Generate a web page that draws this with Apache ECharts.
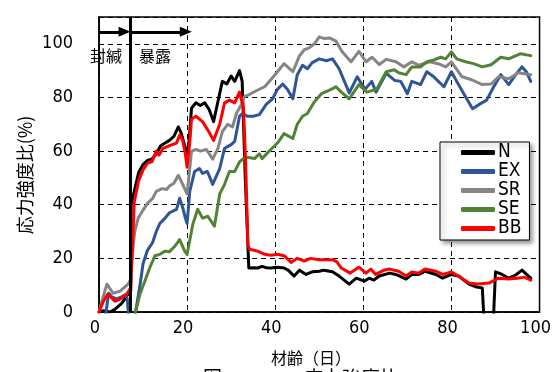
<!DOCTYPE html>
<html>
<head>
<meta charset="utf-8">
<script src="https://cdn.jsdelivr.net/npm/echarts@6/dist/echarts.min.js"></script>
<style>
  html, body { margin: 0; padding: 0; background: #fff; }
  #chart { width: 554px; height: 372px; }
</style>
</head>
<body>
<div id="chart"></div>
<script>
// Age in days and stress-strength ratio (%) for each specimen series
const seriesNames = ['N', 'EX', 'SR', 'SE', 'BB'];
const xTicks = [0, 20, 40, 60, 80, 100];
const yTicks = [0, 20, 40, 60, 80, 100];

const nDays = [0, 1, 2.5, 3.6, 5.2, 6.6, 7.2, 7.3, 8, 9, 10, 11, 12, 13, 14, 15, 16, 17, 18, 18.6, 19.3, 20, 20.5, 21, 22, 23, 24, 25, 26, 27, 28, 29, 30, 30.8, 31.9, 32.5, 33.2, 34, 35, 36, 37, 38, 39, 40.5, 42, 43, 44.3, 45.5, 47, 48.4, 50, 51, 53, 54.5, 56.8, 58.4, 60.2, 61.3, 62.4, 63.6, 66, 67.4, 69.7, 71, 72.6, 74, 76.5, 78, 80, 81.6, 84, 85.7, 87, 87.8, 89.2, 90, 91.5, 93, 94.6, 96, 98];
const nVals = [0, 0.5, 0, 1, 3.3, 6.7, 8, 40, 45, 52, 55, 56.5, 57, 59, 62, 63, 64, 65.5, 69, 67, 63, 58, 65, 76, 78, 77, 78, 75.5, 71, 78.5, 86, 85, 88, 86, 90, 86, 50, 16.4, 16.5, 16.4, 17, 16.5, 16.4, 16.7, 16.4, 15.5, 13.4, 15.6, 14, 15, 15.2, 15.6, 15, 13.4, 10.4, 12.6, 11.5, 12.6, 11.9, 13.4, 14.5, 14, 12.3, 14, 14, 15.2, 14, 12.6, 14, 13.4, 10.4, 9.3, 9, -15, -15, 15, 14, 12.6, 13.8, 15.6, 12.6];

const exDays = [1.2, 1.6, 2.2, 3, 4, 5, 6, 6.4, 6.9, 8, 8.3, 9.3, 10, 11, 12.2, 13, 13.8, 15, 16, 17.6, 18.3, 19, 19.6, 20, 20.6, 21.7, 22.8, 23.5, 24.6, 25.8, 27.4, 28.5, 30, 30.8, 31.9, 32.6, 33.7, 35, 36.4, 38, 39.4, 40.5, 41.7, 42.8, 44, 45, 46.2, 47.3, 48.4, 50, 51.6, 53, 54.5, 56.8, 58.6, 60.4, 61.9, 62.9, 65.2, 67.2, 68.5, 70, 71, 73, 74.4, 76, 78.3, 80, 81.2, 83.2, 84.8, 86.6, 88, 89.6, 91.2, 93, 94.6, 96, 97, 98];
const exVals = [-5, 0, 7, 5.5, 5, 5.5, 6.5, 5, -5, -2, 0, 10, 18, 23, 26, 30, 33, 35, 37, 38.3, 42.4, 39, 35, 33, 45, 52.4, 53.5, 51.7, 52.4, 47.6, 53.5, 61, 62.4, 63.6, 73, 74, 73, 73, 73.6, 77.5, 79.5, 83, 85, 83, 79.5, 88.5, 92, 90.7, 93, 94.4, 93.7, 94.4, 90.7, 81.7, 87.7, 83, 86, 82, 89, 86.3, 86, 81.4, 86, 84.8, 89.6, 87.7, 84, 89.6, 86, 80.3, 75.8, 77.7, 79, 84, 88.5, 84.8, 88.5, 91.4, 89.6, 86];

const srDays = [0, 1, 1.8, 3.2, 4.8, 6.6, 7.2, 7.6, 8.1, 8.9, 10, 11, 12.2, 13, 14.3, 15.4, 16, 17, 18, 19, 20, 20.5, 21, 22, 23, 24.4, 25.8, 27, 28, 29.2, 30.3, 31.2, 32.4, 33, 34, 35.7, 37.6, 39, 40.5, 42, 44, 45.5, 46.6, 47.7, 48.9, 50, 51, 52.3, 53.8, 55.2, 57.2, 59, 60.6, 62, 63.6, 65.2, 67.4, 69.2, 71, 72.6, 75, 77, 78.7, 80, 82.4, 84.6, 87, 89, 90.7, 93, 95.2, 98];
const srVals = [0, 6, 10.4, 7, 7.8, 10.4, 12, 22, 30, 35, 38, 40.5, 42.4, 45, 46, 45.7, 47, 48, 51, 47.6, 44, 52, 60, 60.6, 60, 60.6, 57, 61, 67.3, 70, 69, 74, 77.7, 80.3, 81, 82.5, 84, 86.6, 89.6, 92.6, 89.6, 95.5, 97.8, 98.5, 100, 102.6, 102, 102.2, 101, 97, 93.3, 97.2, 93.3, 95, 92.3, 94.2, 93.3, 91.4, 93.3, 92, 93.3, 92.6, 91.4, 93.3, 87.7, 86.6, 84.8, 85, 87.7, 87, 89.2, 88.5];

const seDays = [7.8, 8.3, 9.3, 10.4, 11.5, 12.7, 13.8, 15, 16, 17.2, 18.3, 19.5, 20, 21.3, 22.4, 23.5, 24.7, 26.2, 27.4, 28.5, 29.6, 30.8, 31.9, 33.2, 35.3, 36.4, 37, 39, 40.5, 42, 44, 45, 46.2, 47.3, 48.9, 50.5, 52.7, 53.8, 55, 56.8, 59, 60.8, 63, 65.2, 67, 68, 69.7, 71, 73, 74.4, 76, 77.6, 78.7, 80, 81.2, 83.2, 85, 87, 89, 91.2, 93, 95.7, 98];
const seVals = [-3, 0, 6.7, 11.5, 16.4, 21, 21.5, 22.7, 22.5, 24.5, 27, 22.5, 21.5, 32.7, 38.3, 35, 35.7, 32, 44, 47.6, 52.4, 52.4, 56, 57.8, 57.2, 59, 57.2, 60.6, 63, 66.5, 64.7, 70, 73, 74, 78.4, 81.4, 83, 84, 82, 79.5, 84.8, 82, 83, 89.6, 90.3, 89.2, 88.5, 91.4, 91.4, 93.3, 94, 95, 94.4, 97, 94.4, 93.3, 92.6, 91.4, 92.2, 95, 94.4, 96.3, 95.6];

const bbDays = [0, 1, 2, 3.6, 4.8, 6.3, 7.2, 7.6, 8, 9, 10, 11, 12, 13, 13.6, 14.5, 16, 17.6, 18.3, 19, 19.6, 20, 20.6, 21, 22, 23.5, 25, 26, 27.4, 28.5, 29.6, 30.8, 31.9, 32.8, 33.3, 33.8, 34.2, 36, 37.6, 39, 40.5, 42, 43.6, 45, 46.6, 48, 50, 52, 53, 54, 55, 57, 59, 60.6, 61.7, 62.8, 64.7, 66, 68, 69.7, 71, 72.6, 74, 76.5, 78, 80, 81.6, 84, 86, 88.5, 90.7, 93, 95, 96.5, 98];
const bbVals = [0, 4, 6.7, 4, 4.8, 6.7, 9, 25, 41, 49, 53, 55.5, 56, 60, 58.5, 61, 62, 63, 66, 64, 59, 54, 63, 72, 73, 71, 67, 64, 70, 78, 79, 78, 82, 76, 55, 25, 23.4, 22.7, 21.5, 21.2, 21.5, 21, 18.5, 20, 19, 20, 19.5, 19.5, 19.5, 18.7, 16.4, 14.5, 16.7, 14.5, 16, 14, 15.6, 16, 15.2, 13.4, 14.9, 14.5, 16, 15.2, 14, 14.9, 13.4, 10.8, 10.4, 10.8, 12.6, 12.3, 12.6, 13, 11.9];

// Age at which exposure starts (sealed curing before it) and the level of the period arrows
const exposureStart = 7.2;
const arrowLevel = 104.5;

const colors = { N: '#000000', EX: '#2F5597', SR: '#858585', SE: '#548235', BB: '#FF0000' };
const latin = '"DejaVu Sans Condensed", "Liberation Sans Narrow", sans-serif';
const cjk = '"Noto Sans CJK JP", sans-serif';

function pairs(days, vals) {
  return days.map((d, i) => [d, vals[i]]);
}

const chart = echarts.init(document.getElementById('chart'), null, { renderer: 'canvas' });

const seriesData = {
  N: pairs(nDays, nVals),
  EX: pairs(exDays, exVals),
  SR: pairs(srDays, srVals),
  SE: pairs(seDays, seVals),
  BB: pairs(bbDays, bbVals)
};

const series = seriesNames.map(name => ({
  name: name,
  type: 'line',
  data: seriesData[name],
  showSymbol: false,
  symbol: 'none',
  clip: true,
  lineStyle: { color: colors[name], width: 3, join: 'round', cap: 'round' },
  itemStyle: { color: colors[name] },
  z: 3
}));

// Boundary between sealed curing and exposure
series[0].markLine = {
  silent: true,
  symbol: 'none',
  label: { show: false },
  lineStyle: { color: '#000', width: 3, type: 'solid' },
  data: [{ xAxis: exposureStart }]
};

// Period arrows above the curves
series[4].markLine = {
  silent: true,
  symbol: ['none', 'triangle'],
  symbolSize: [10, 12],
  label: { show: false },
  lineStyle: { color: '#000', width: 3, type: 'solid' },
  data: [
    [{ coord: [0, arrowLevel] }, { coord: [exposureStart - 1.4, arrowLevel] }],
    [{ coord: [exposureStart, arrowLevel] }, { coord: [19.7, arrowLevel] }]
  ]
};

const option = {
  animation: false,
  backgroundColor: '#fff',
  grid: {
    left: 99, right: 13, top: 17, bottom: 60,
    show: true, borderColor: '#000', borderWidth: 1.5, backgroundColor: 'transparent'
  },
  xAxis: {
    type: 'value',
    min: xTicks[0], max: xTicks[xTicks.length - 1], interval: 20,
    axisLine: { show: true, lineStyle: { color: '#000', width: 1.5 } },
    axisTick: { show: false },
    axisLabel: {
      color: '#000', fontFamily: latin, fontSize: 18, margin: 7,
      padding: [0, 8, 0, 0]
    },
    splitLine: { show: true, lineStyle: { color: '#000', width: 1, type: [5, 4] } }
  },
  yAxis: {
    type: 'value',
    min: yTicks[0], max: 110, interval: 20,
    axisLine: { show: true, lineStyle: { color: '#000', width: 1.5 } },
    axisTick: { show: false },
    axisLabel: {
      color: '#000', fontFamily: latin, fontSize: 18, margin: 26,
      showMaxLabel: false,
      formatter: v => (yTicks.indexOf(v) >= 0 ? String(v) : '')
    },
    splitLine: { show: true, lineStyle: { color: '#000', width: 1, type: [5, 4] } }
  },
  legend: {
    data: seriesNames,
    orient: 'vertical',
    left: 440, top: 142,
    padding: [1, 8, 2, 21],
    itemGap: 0,
    itemWidth: 34, itemHeight: 5,
    icon: 'roundRect',
    backgroundColor: '#fff',
    borderColor: '#000', borderWidth: 1,
    shadowBlur: 4, shadowColor: 'rgba(0,0,0,0.4)', shadowOffsetX: 3, shadowOffsetY: 3,
    textStyle: { color: '#000', fontFamily: latin, fontSize: 19, lineHeight: 18.3, padding: [0, 0, 0, -2] }
  },
  graphic: [
    {
      type: 'text', x: 25, y: 175, rotation: Math.PI / 2,
      style: { text: '応力強度比(%)', font: '18px ' + cjk, fill: '#000', textAlign: 'center', textVerticalAlign: 'middle' }
    },
    {
      type: 'text', x: 311, y: 358,
      style: { text: '材齢（日）', font: '16px ' + cjk, fill: '#000', textAlign: 'center', textVerticalAlign: 'middle' }
    },
    {
      type: 'text', x: 106, y: 56,
      style: { text: '封緘', font: '16px ' + cjk, fill: '#000', textAlign: 'center', textVerticalAlign: 'middle' }
    },
    {
      type: 'text', x: 155, y: 56,
      style: { text: '暴露', font: '16px ' + cjk, fill: '#000', textAlign: 'center', textVerticalAlign: 'middle' }
    },
    {
      type: 'text', x: 203, y: 368,
      style: { text: '図', font: '19px ' + cjk, fill: '#000', textAlign: 'left', textVerticalAlign: 'top' }
    },
    {
      type: 'text', x: 304, y: 368,
      style: { text: '応力強度比', font: '19px ' + cjk, fill: '#000', textAlign: 'left', textVerticalAlign: 'top' }
    }
  ],
  series: series
};

chart.setOption(option);
</script>
</body>
</html>
